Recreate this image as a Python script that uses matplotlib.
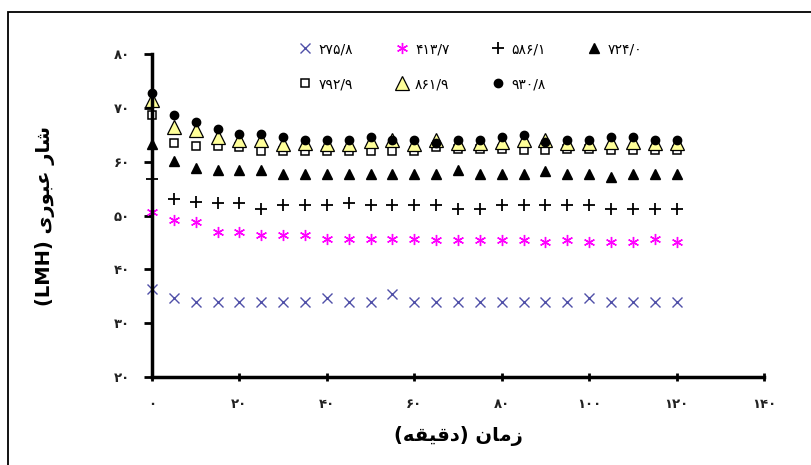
import matplotlib
matplotlib.use("Agg")
import matplotlib.pyplot as plt
from matplotlib.patches import Rectangle

plt.rcParams['font.family'] = ['DejaVu Sans']

time_min = [0, 5, 10, 15, 20, 25, 30, 35, 40, 45, 50, 55, 60, 65, 70, 75, 80, 85, 90, 95, 100, 105, 110, 115, 120]

s_275_8 = [36.4, 34.7, 33.9, 33.9, 33.9, 33.9, 33.9, 33.9, 34.7, 33.9, 33.9, 35.5, 33.9, 33.9, 33.9, 33.9,
           33.9, 33.9, 33.9, 33.9, 34.7, 33.9, 33.9, 33.9, 33.9]
s_413_7 = [50.6, 49.2, 48.8, 46.9, 46.9, 46.3, 46.3, 46.3, 45.7, 45.7, 45.7, 45.7, 45.7, 45.5, 45.5, 45.5,
           45.5, 45.5, 45.0, 45.5, 45.0, 45.0, 45.0, 45.6, 45.0]
s_586_1 = [56.7, 53.1, 52.5, 52.3, 52.3, 51.3, 51.9, 51.9, 51.9, 52.3, 51.9, 51.9, 51.9, 51.9, 51.3, 51.3,
           51.9, 51.9, 51.9, 51.9, 51.9, 51.3, 51.3, 51.3, 51.3]
s_724_0 = [63.3, 60.2, 58.9, 58.5, 58.5, 58.5, 57.7, 57.7, 57.7, 57.7, 57.7, 57.7, 57.7, 57.8, 58.5, 57.7,
           57.7, 57.7, 58.3, 57.7, 57.7, 57.2, 57.7, 57.7, 57.7]
s_792_9 = [68.6, 63.5, 62.9, 62.9, 62.7, 62.0, 62.0, 62.0, 62.0, 62.0, 62.0, 62.0, 62.0, 62.7, 62.4, 62.4,
           62.4, 62.1, 62.1, 62.4, 62.4, 62.1, 62.1, 62.1, 62.1]
s_861_9 = [71.4, 66.5, 65.8, 64.6, 64.0, 64.0, 63.2, 63.4, 63.2, 63.2, 63.9, 64.0, 63.2, 64.0, 63.4, 63.4,
           63.7, 64.0, 64.0, 63.4, 63.4, 63.7, 63.7, 63.4, 63.4]
s_930_8 = [72.8, 68.6, 67.4, 66.0, 65.1, 65.1, 64.5, 64.0, 64.1, 64.1, 64.5, 64.0, 64.0, 63.5, 64.0, 64.0,
           64.6, 64.9, 63.7, 64.0, 64.0, 64.6, 64.6, 64.0, 64.0]

series_labels = ['۲۷۵/۸', '۴۱۳/۷', '۵۸۶/۱', '۷۲۴/۰', '۷۹۲/۹', '۸۶۱/۹', '۹۳۰/۸']
x_ticks = [0, 20, 40, 60, 80, 100, 120, 140]
x_tick_labels = ['۰', '۲۰', '۴۰', '۶۰', '۸۰', '۱۰۰', '۱۲۰', '۱۴۰']
y_ticks = [20, 30, 40, 50, 60, 70, 80]
y_tick_labels = ['۲۰', '۳۰', '۴۰', '۵۰', '۶۰', '۷۰', '۸۰']

# Persian labels in visual (pre-shaped, left-to-right) order
x_label = "(" + "\uFEEA\uFED8\uFEF4\uFED7\uFEA9" + ") " + "\uFEE5\uFE8E\uFEE3\uFEAF"
y_label = "(LMH) " + "\uFEEF\uFEAD\uFEEE\uFE92\uFECB" + " " + "\uFEAD\uFE8E\uFEB7"

fig = plt.figure(figsize=(8.11, 4.65), dpi=100)
fig.patches.append(Rectangle((8 / 811, -0.1), 1.2, 1 - 12 / 465 + 0.1, transform=fig.transFigure,
                             fill=False, edgecolor='black', linewidth=1.3))
ax = fig.add_axes([152 / 811, 1 - 377 / 465, (764 - 152) / 811, (377 - 54) / 465])

styles = [
    dict(marker='x', color='#5050a8', ms=7, mew=1.0, mfc='none'),
    dict(marker=(6, 2, 0), color='#ff00ff', ms=8, mew=1.0),
    dict(marker='+', color='black', ms=8, mew=1.3),
    dict(marker='^', color='black', ms=7, mfc='black', mec='black'),
    dict(marker='s', color='black', ms=6, mfc='white', mec='black', mew=1.1),
    dict(marker='^', color='black', ms=10.5, mfc='#ffff99', mec='black', mew=0.9),
    dict(marker='o', color='black', ms=6, mfc='black', mec='black'),
]
data = [s_275_8, s_413_7, s_586_1, s_724_0, s_792_9, s_861_9, s_930_8]
handles = []
for vals, st, lab in zip(data, styles, series_labels):
    h, = ax.plot(time_min, vals, linestyle='none', label=lab, clip_on=False, **st)
    handles.append(h)

ax.set_xlim(0, 140)
ax.set_ylim(20, 80)
ax.set_xticks(x_ticks)
ax.set_xticklabels(x_tick_labels, fontsize=9.5, fontweight='bold', color='#222222')
ax.set_yticks(y_ticks)
ax.set_yticklabels(y_tick_labels, fontsize=9.5, fontweight='bold', color='#222222')
ax.tick_params(axis='y', direction='out', length=6, width=2, pad=10)
ax.tick_params(axis='x', direction='inout', length=6, width=2, pad=12)
for sp in ['top', 'right']:
    ax.spines[sp].set_visible(False)
for sp in ['left', 'bottom']:
    ax.spines[sp].set_linewidth(2.5)

ax.set_xlabel(x_label, fontsize=14, fontweight='bold', labelpad=11)
ax.set_ylabel(y_label, fontsize=14, fontweight='bold', labelpad=42)

order = [0, 4, 1, 5, 2, 6, 3]
leg = ax.legend([handles[i] for i in order], [series_labels[i] for i in order], ncol=4,
                loc='upper left', bbox_to_anchor=((286 - 152) / 612, 1.075), frameon=False,
                fontsize=10, numpoints=1, handlelength=1.0, handletextpad=0.45,
                columnspacing=3.0, labelspacing=1.5)

fig.savefig('out.png', dpi=100)
